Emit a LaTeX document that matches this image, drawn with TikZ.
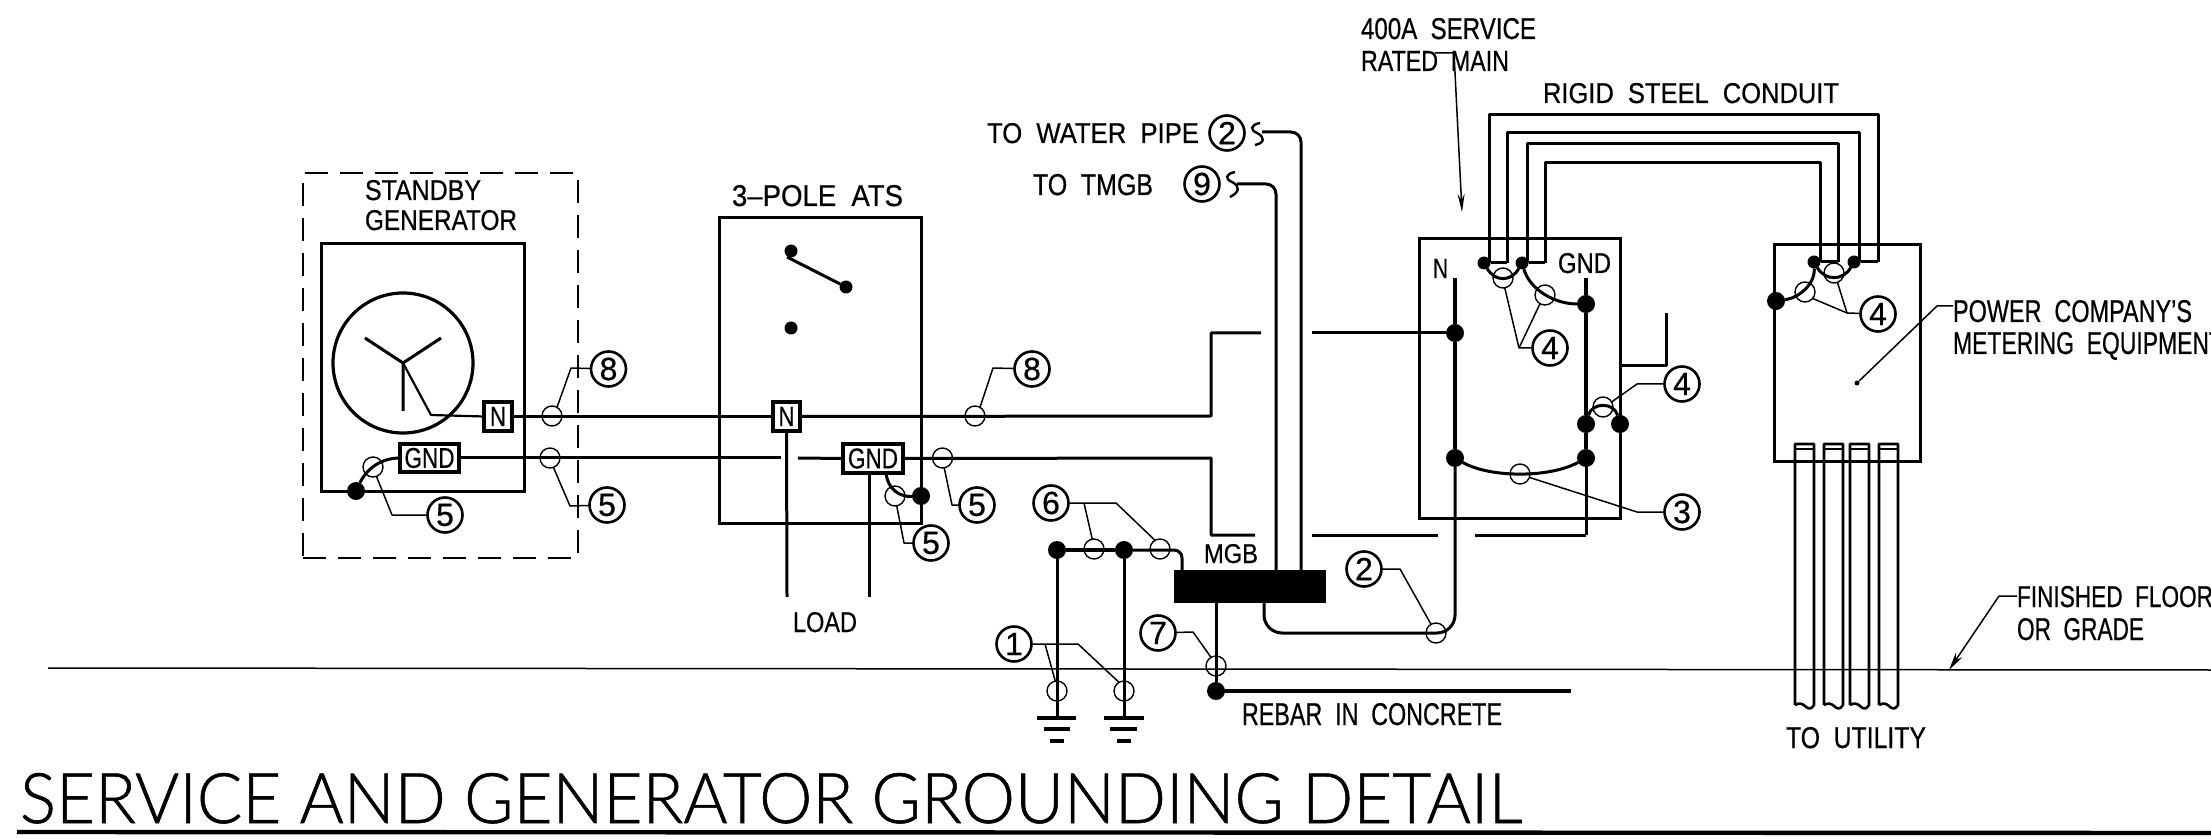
\documentclass[tikz,border=0pt]{standalone}
\usepackage{graphicx}
\usepackage{fontspec}
\setmainfont[FakeBold=0.6]{Liberation Sans}
\newfontfamily\titlef[UprightFont=* Light,FakeBold=0.8]{Lato}
\usetikzlibrary{arrows.meta}
\newcommand\fitbox[3]{\resizebox{\dimexpr#1pt/2\relax}{\dimexpr#2pt/2\relax}{#3}}
\newcommand\wsp{\hspace{0.55em}}
\tikzset{
  wire/.style={line width=1.5pt,line join=round},
  bus/.style={line width=2.3pt},
  lead/.style={line width=.75pt,line join=round},
  boxa/.style={draw,line width=1.5pt,inner sep=0,outer sep=0,rectangle},
  termb/.style={draw,line width=1.8pt,inner sep=0,outer sep=0,rectangle,fill=white},
  tick/.style={draw,circle,line width=.7pt,minimum size=10pt,inner sep=0,outer sep=0},
  dotb/.style={circle,fill=black,minimum size=9pt,inner sep=0,outer sep=0},
  dots/.style={circle,fill=black,minimum size=6.5pt,inner sep=0,outer sep=0},
  ball/.style={draw,circle,line width=1.3pt,minimum size=17.5pt,inner sep=0,outer sep=0,font=\fontsize{16}{16}\selectfont,fill=white},
  txt/.style={anchor=base west,inner sep=0,outer sep=0},
}
\begin{document}
\begin{tikzpicture}[x=0.5pt,y=-0.5pt]
\path[use as bounding box,fill=white] (0,0) rectangle (2211,839);
\clip (0,0) rectangle (2211,839);

% grade and base lines
\coordinate (gl) at (48,668); \coordinate (gr) at (2211,670);
\draw[lead] (gl) -- (gr);
\coordinate (bl) at (17,832); \coordinate (br) at (2211,833);
\draw[line width=2.2pt] (bl) -- (br);

% enclosures
\node[draw,line width=.6pt,dash pattern=on 11.5pt off 6pt,rectangle,inner sep=0,minimum width=137.5pt,minimum height=192.5pt] (encl) at (440.5,365.5) {};
\node[boxa,minimum width=101.5pt,minimum height=123.5pt] (gen) at (422.5,367.5) {};
\node[boxa,minimum width=101pt,minimum height=152.5pt] (ats) at (820,370.5) {};
\node[boxa,minimum width=100.5pt,minimum height=139.5pt] (pan) at (1519.5,378.5) {};
\node[boxa,minimum width=73pt,minimum height=108.5pt] (met) at (1847,353.5) {};
\node[draw,circle,line width=1.6pt,minimum size=70pt,inner sep=0] (genc) at (403,363) {};

% generator star
\coordinate (ys) at (403,363);
\coordinate (y1) at (365,338); \coordinate (y2) at (441,338); \coordinate (y3) at (403,411);
\draw[wire] (y1) -- (ys) -- (y2) (ys) -- (y3);

% terminals
\node[termb,minimum width=13.75pt,minimum height=14.5pt] (gN) at (498,416.5) {\fitbox{16}{19}{N}};
\node[termb,minimum width=29.5pt,minimum height=14pt] (gG) at (429.5,458) {\fitbox{50}{20}{GND}};
\node[termb,minimum width=13.5pt,minimum height=14.5pt] (aN) at (786.5,416.5) {\fitbox{16}{19}{N}};
\node[termb,minimum width=30pt,minimum height=14.5pt] (aG) at (873,458.5) {\fitbox{50}{20}{GND}};

% dots
\node[dotb] (d1) at (356,491) {};
\node[dotb] (d2) at (921,496) {};
\node[dots] (s1) at (791,251) {};
\node[dots] (s2) at (846,287) {};
\node[dots] (s3) at (791,328) {};
\node[dotb] (dN) at (1455,333) {};
\node[dotb] (dNb) at (1455,458) {};
\node[dotb] (dG) at (1586,304) {};
\node[dotb] (dG2) at (1586,424) {};
\node[dotb] (dG3) at (1586,458) {};
\node[dotb] (dP) at (1620,424) {};
\node[dots] (c1) at (1484,263) {};
\node[dots] (c2) at (1522,263) {};
\node[dots] (m1) at (1814,262) {};
\node[dots] (m2) at (1854,262) {};
\node[dotb] (m3) at (1776,301) {};
\node[dotb] (e1) at (1057,550) {};
\node[dotb] (e2) at (1124,550) {};
\node[dotb] (e3) at (1216,691) {};
\node[circle,fill=black,minimum size=2.5pt,inner sep=0] (pd) at (1857,383) {};

% MGB
\node[rectangle,fill=black,minimum width=76pt,minimum height=16.5pt,inner sep=0,outer sep=0] (mgb) at (1250,586.5) {};

% switch
\coordinate (s1b) at (787,257);
\draw[wire] (s1b) -- (s2);

% wiring: neutral
\coordinate (wa) at (431,415);
\coordinate (na) at (1211,416); \coordinate (nb) at (1211,333); \coordinate (nc) at (1261,333); \coordinate (nd) at (1312,333);
\draw[line width=1.1pt] (ys) -- (wa) -- (gN.west);
\draw[wire] (gN.east) -- (aN.west);
\draw[wire] (aN.east) -- (na) -- (nb) -- (nc);
\draw[wire] (nd) -- (dN);
% wiring: ground
\coordinate (ga) at (781,458); \coordinate (gb) at (798,458);
\coordinate (gc) at (1211,458); \coordinate (gd) at (1211,535); \coordinate (ge) at (1255,535);
\coordinate (gf) at (1312,535); \coordinate (gg) at (1438,535); \coordinate (gh) at (1475,535); \coordinate (gi) at (1586,535);
\draw[wire] (gG.east) -- (ga);
\draw[wire] (gb) -- (aG.west);
\draw[wire] (aG.east) -- (gc) -- (gd) -- (ge);
\draw[wire] (gf) -- (gg);
\draw[wire] (gh) -- (gi);
% load legs
\coordinate (l1) at (787,597); \coordinate (l2) at (869,597);
\draw[wire] (aN.south) -- (l1);
\draw[wire] (869,473) -- (l2);
% buses
\coordinate (bN) at (1455,278); \coordinate (bG) at (1586,278);
\draw[bus] (bN) -- (dN) -- (dNb);
\draw[wire,rounded corners=9pt] (dNb) -- (1455,633) -- (1264,633) -- (1264,603);
\draw[bus] (bG) -- (dG) -- (dG2) -- (dG3);
\draw[wire] (dG3) -- (gi);
% bonds
\draw[wire] (d1) .. controls (365,472) and (378,458) .. (gG.west);
\draw[wire] (886,473) .. controls (888,490) and (900,497) .. (d2);
\draw[wire] (dNb) .. controls (1490,478) and (1550,478) .. (dG3);
\draw[wire] (dG2) .. controls (1592,402) and (1614,402) .. (dP);
\draw[wire] (c1) .. controls (1495,282) and (1511,282) .. (c2);
\draw[wire] (c2) .. controls (1530,290) and (1555,304) .. (dG);
\draw[wire] (m1) .. controls (1815,285) and (1798,298) .. (m3);
\draw[wire] (m1) .. controls (1825,281) and (1843,281) .. (m2);
% bonding jumper outside panel
\coordinate (j1) at (1621,366); \coordinate (j2) at (1666,366); \coordinate (j3) at (1666,313);
\draw[wire] (j1) -- (j2) -- (j3);
% conduits
\draw[wire] (1489,263) -- (1489,115) -- (1878,115) -- (1878,262);
\draw[wire] (1507,263) -- (1507,133) -- (1859,133) -- (1859,262);
\draw[wire] (1527,263) -- (1527,144) -- (1838,144) -- (1838,262);
\draw[wire] (1545,263) -- (1545,163) -- (1820,163) -- (1820,262);
\draw[wire] (c1) -- (1507,263) (c2) -- (1545,263) (m1) -- (1838,262) (m2) -- (1878,262);
% conduits to utility
\foreach \a/\b in {1795/1814,1824/1843,1850/1869,1879/1898}{
  \draw[line width=1.3pt,line join=round] (\a,705) -- (\a,444) -- (\b,444) -- (\b,705)
    .. controls (\b-3,710) and (\b-6,709) .. (\b-9,706) .. controls (\b-12,703) and (\b-16,703) .. (\a,705);
  \draw[line width=.7pt] (\a,449) -- (\b,449);
}
% water pipe and TMGB conductors
\coordinate (w1) at (1262,132); \coordinate (w2) at (1301,132); \coordinate (w3) at (1301,570);
\coordinate (t1) at (1237,184); \coordinate (t2) at (1276,184); \coordinate (t3) at (1276,570);
\draw[wire,rounded corners=5pt] (w1) -- (w2) -- (w3);
\draw[wire,rounded corners=5pt] (t1) -- (t2) -- (t3);
\draw[line width=1.2pt] (1260,123) .. controls (1250,125) and (1250,130) .. (1257,133) .. controls (1265,137) and (1265,143) .. (1255,145);
\draw[line width=1.2pt] (1235,172) .. controls (1225,174) and (1225,179) .. (1232,182) .. controls (1240,186) and (1240,192) .. (1230,197);
% ground rods and MGB links
\draw[bus] (e1) -- (e2);
\draw[wire,rounded corners=4pt] (e2) -- (1182,550) -- (1182,570);
\coordinate (r1) at (1057,718); \coordinate (r2) at (1124,718);
\draw[wire] (e1) -- (r1);
\draw[wire] (e2) -- (r2);
\draw[line width=1.7pt] (1037,718) -- (1076,718) (1044,729) -- (1070,729) (1050,741) -- (1064,741);
\draw[line width=1.7pt] (1104,718) -- (1144,718) (1110,729) -- (1137,729) (1117,741) -- (1131,741);
\coordinate (rb) at (1571,691);
\draw[wire] (1216,603) -- (e3);
\draw[bus] (e3) -- (rb);

% conductor ticks
\node[tick] (t8a) at (552,416) {};
\node[tick] (t8b) at (975,416) {};
\node[tick] (t5a) at (550,458) {};
\node[tick] (t5b) at (942.5,458) {};
\node[tick] (t5c) at (373,467) {};
\node[tick] (t5d) at (895,496) {};
\node[tick] (t4a) at (1503,278) {};
\node[tick] (t4b) at (1545,295) {};
\node[tick] (t4c) at (1603,407) {};
\node[tick] (t4d) at (1805,292) {};
\node[tick] (t4e) at (1834,273) {};
\node[tick] (t3) at (1520,474) {};
\node[tick] (t2) at (1436,633) {};
\node[tick] (t6a) at (1094,549) {};
\node[tick] (t6b) at (1160,549) {};
\node[tick] (t1a) at (1057,691) {};
\node[tick] (t1b) at (1124,691) {};
\node[tick] (t7) at (1216,666) {};

% balloons
\node[ball] (b8a) at (608.5,369) {8};
\node[ball] (b8b) at (1032,369) {8};
\node[ball] (b5a) at (607,505) {5};
\node[ball] (b5b) at (445,515) {5};
\node[ball] (b5c) at (931,543) {5};
\node[ball] (b5d) at (977,505) {5};
\node[ball] (b2a) at (1227,133) {2};
\node[ball] (b9) at (1202,184) {9};
\node[ball] (b2b) at (1364,569) {2};
\node[ball] (b4a) at (1550,348) {4};
\node[ball] (b4b) at (1682,384) {4};
\node[ball] (b4c) at (1878,314) {4};
\node[ball] (b3) at (1682,512) {3};
\node[ball] (b6) at (1051,503) {6};
\node[ball] (b1) at (1014,644) {1};
\node[ball] (b7) at (1158,633) {7};

% leaders
\draw[lead] (t8a.60) -- (571,368) -- (b8a);
\draw[lead] (t8b.60) -- (993,368) -- (b8b);
\draw[lead] (t5a.-70) -- (570,506) -- (b5a);
\draw[lead] (t5c.-70) -- (392,515) -- (b5b);
\draw[lead] (t5d.-80) -- (904,543) -- (b5c);
\draw[lead] (t5b.-80) -- (952,505) -- (b5d);
\draw[lead] (t4a.-80) -- (1519,348) -- (b4a);
\draw[lead] (t4b.-120) -- (1519,348);
\draw[lead] (t4c.30) -- (1637,384) -- (b4b);
\draw[lead] (t4d.-40) -- (1847,313) -- (b4c);
\draw[lead] (t4e.-70) -- (1847,313);
\draw[lead] (t3.-20) -- (1637,512) -- (b3);
\draw[lead] (t2.120) -- (1400,569) -- (b2b);
\draw[lead] (b6) -- (1116,503) -- (t6b.120);
\draw[lead] (1084,503) -- (t6a.100);
\draw[lead] (b1) -- (1078,644) -- (t1b.120);
\draw[lead] (1045,644) -- (t1a.100);
\draw[lead] (b7) -- (1193,632) -- (t7.120);

% callout arrows
\coordinate (ma) at (1435,53); \coordinate (mb) at (1454,53); \coordinate (mc) at (1462,212);
\draw[lead,-{Stealth[length=9pt,width=3.5pt]}] (ma) -- (mb) -- (mc);
\coordinate (pa) at (1953,306); \coordinate (pb) at (1937,306);
\draw[lead] (pa) -- (pb) -- (pd);
\coordinate (fa) at (2017,596); \coordinate (fb) at (1999,596); \coordinate (fc) at (1949,670);
\draw[lead,-{Stealth[length=9pt,width=4pt]}] (fa) -- (fb) -- (fc);

% texts
\node[txt] (x1) at (365,200) {\fitbox{116}{20}{STANDBY}};
\node[txt] (x2) at (365,230) {\fitbox{152}{20}{GENERATOR}};
\node[txt] (x3) at (732,206) {\fitbox{171}{21}{3--POLE\wsp ATS}};
\node[txt] (x4) at (793,632) {\fitbox{64}{20}{LOAD}};
\node[txt] (x5) at (987,143) {\fitbox{212}{20}{TO\wsp WATER\wsp PIPE}};
\node[txt] (x6) at (1033,195) {\fitbox{120}{21}{TO\wsp TMGB}};
\node[txt] (x7) at (1361,39) {\fitbox{175}{21}{400A\wsp SERVICE}};
\node[txt] (x8) at (1361,71) {\fitbox{148}{20}{RATED\wsp MAIN}};
\node[txt] (x9) at (1543,103) {\fitbox{296}{20}{RIGID\wsp STEEL\wsp CONDUIT}};
\node[txt] (x10) at (1433,278) {\fitbox{15}{19}{N}};
\node[txt] (x11) at (1558,273) {\fitbox{53}{20}{GND}};
\node[txt] (x12) at (1204,563) {\fitbox{54}{19}{MGB}};
\node[txt] (x13) at (1242,725) {\fitbox{260}{22}{REBAR\wsp IN\wsp CONCRETE}};
\node[txt] (x14) at (1786,748) {\fitbox{140}{21}{TO\wsp UTILITY}};
\node[txt] (x15) at (1953,322) {\fitbox{239}{22}{POWER\wsp COMPANY'S}};
\node[txt] (x16) at (1953,354) {\fitbox{270}{22}{METERING\wsp EQUIPMENT}};
\node[txt] (x17) at (2017,607) {\fitbox{196}{21}{FINISHED\wsp FLOOR}};
\node[txt] (x18) at (2017,640) {\fitbox{127}{22}{OR\wsp GRADE}};
\node[txt] (title) at (20,823) {\fitbox{1502}{50}{\titlef SERVICE AND GENERATOR GROUNDING DETAIL}};
\end{tikzpicture}
\end{document}
